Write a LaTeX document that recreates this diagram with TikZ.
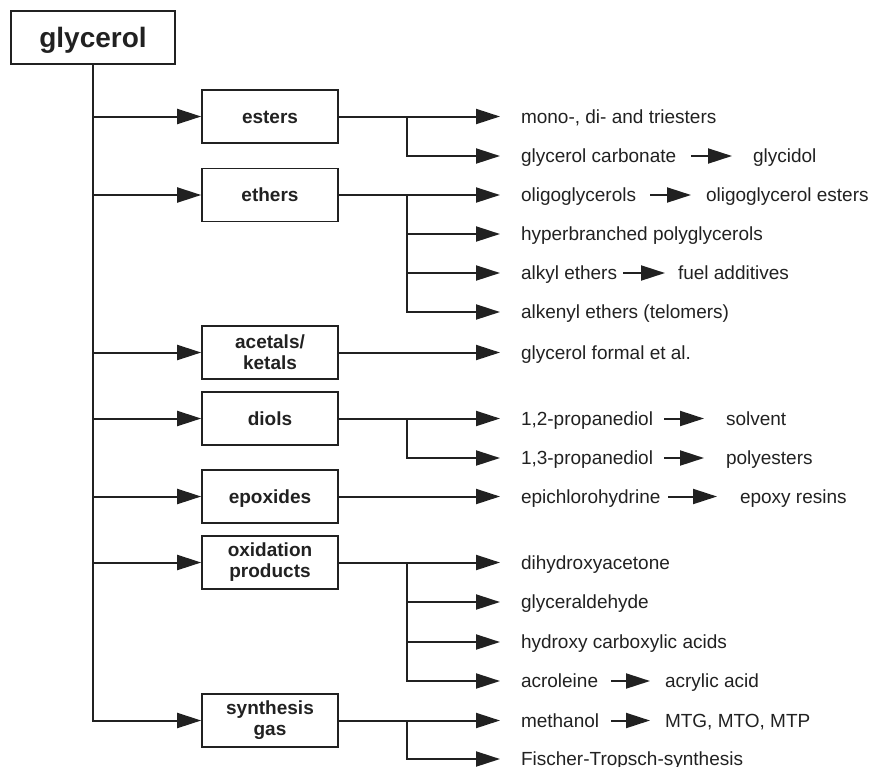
\documentclass[tikz,border=0pt]{standalone}
\usepackage{fontspec}
\setmainfont{Liberation Sans}
\usetikzlibrary{arrows.meta}
\definecolor{ink}{gray}{0.13}
\begin{document}
\begin{tikzpicture}[x=1pt,y=-1pt,
  line width=2pt,
  box/.style={draw=ink, line width=1.6pt, minimum width=136pt, minimum height=53pt, inner sep=0pt,
    font=\bfseries\fontsize{19}{21}\selectfont, text=ink, align=center},
  box1/.style={box, text height=13.6pt, text depth=0pt},
  lbl/.style={anchor=west, inner sep=0pt, font=\fontsize{19}{21}\selectfont, text=ink,
    text height=13pt, text depth=0pt},
  arr/.style={draw=ink, line width=2pt, -{Triangle[length=24pt,width=15pt]}},
]
\useasboundingbox (0,0) rectangle (872,766);

% main boxes
\node[box, minimum width=164pt, font=\bfseries\fontsize{28}{30}\selectfont, text height=20pt, text depth=0pt] (g) at (93,37.5) {glycerol};
\node[box1] (est) at (270,116.5) {esters};
\node[box1] (eth) at (270,195) {ethers};
\node[box] (ace) at (270,352.5) {acetals/\\ketals};
\node[box1] (dio) at (270,418.5) {diols};
\node[box1] (epo) at (270,496.5) {epoxides};
\node[box] (oxi) at (270,562.5) {oxidation\\products};
\node[box] (syn) at (270,720.5) {synthesis\\gas};

% labels
\node[lbl] (mono) at (520,116.5) {mono-, di- and triesters};
\node[lbl] (carb) at (520,156) {glycerol carbonate};
\node[lbl] (glyd) at (752,156) {glycidol};
\node[lbl] (olig) at (520,195) {oligoglycerols};
\node[lbl] (olige) at (705,195) {oligoglycerol esters};
\node[lbl] (hyp) at (520,234) {hyperbranched polyglycerols};
\node[lbl] (alk) at (520,273) {alkyl ethers};
\node[lbl] (fuel) at (677,273) {fuel additives};
\node[lbl] (alke) at (520,312) {alkenyl ethers (telomers)};
\node[lbl] (form) at (520,352.5) {glycerol formal et al.};
\node[lbl] (p12) at (520,418.5) {1,2-propanediol};
\node[lbl] (solv) at (725,418.5) {solvent};
\node[lbl] (p13) at (520,458) {1,3-propanediol};
\node[lbl] (poly) at (725,458) {polyesters};
\node[lbl] (epi) at (520,496.5) {epichlorohydrine};
\node[lbl] (res) at (739,496.5) {epoxy resins};
\node[lbl] (dhy) at (520,562.5) {dihydroxyacetone};
\node[lbl] (gald) at (520,602) {glyceraldehyde};
\node[lbl] (hca) at (520,642) {hydroxy carboxylic acids};
\node[lbl] (acr) at (520,681) {acroleine};
\node[lbl] (acra) at (664,681) {acrylic acid};
\node[lbl] (meth) at (520,720.5) {methanol};
\node[lbl] (mtg) at (664,720.5) {MTG, MTO, MTP};
\node[lbl] (ft) at (520,759) {Fischer-Tropsch-synthesis};

% trunk
\draw[arr] (g.south) |- (syn.west);
\foreach \b in {est,eth,ace,dio,epo,oxi}
  \draw[arr] (g.south |- \b.west) -- (\b.west);

% branch points
\coordinate (b1) at ([xshift=68pt]est.east);
\coordinate (b2) at ([xshift=68pt]eth.east);
\coordinate (b4) at ([xshift=68pt]dio.east);
\coordinate (b6) at ([xshift=68pt]oxi.east);
\coordinate (b7) at ([xshift=68pt]syn.east);

% esters
\draw[arr] (est.east) -- ([xshift=-20pt]mono.west);
\draw[arr] (b1) |- ([xshift=-20pt]carb.west);
% ethers
\draw[arr] (eth.east) -- ([xshift=-20pt]olig.west);
\foreach \t in {hyp,alk,alke}
  \draw[arr] (b2) |- ([xshift=-20pt]\t.west);
% acetals
\draw[arr] (ace.east) -- ([xshift=-20pt]form.west);
% diols
\draw[arr] (dio.east) -- ([xshift=-20pt]p12.west);
\draw[arr] (b4) |- ([xshift=-20pt]p13.west);
% epoxides
\draw[arr] (epo.east) -- ([xshift=-20pt]epi.west);
% oxidation
\draw[arr] (oxi.east) -- ([xshift=-20pt]dhy.west);
\foreach \t in {gald,hca,acr}
  \draw[arr] (b6) |- ([xshift=-20pt]\t.west);
% synthesis gas
\draw[arr] (syn.east) -- ([xshift=-20pt]meth.west);
\draw[arr] (b7) |- ([xshift=-20pt]ft.west);

% inline arrows
\draw[arr] ([xshift=13.5pt]carb.east) -- ([xshift=-20pt]glyd.west);
\draw[arr] ([xshift=13pt]olig.east) -- ([xshift=-14pt]olige.west);
\draw[arr] ([xshift=5pt]alk.east) -- ([xshift=-12pt]fuel.west);
\draw[arr] ([xshift=10pt]p12.east) -- ([xshift=-21pt]solv.west);
\draw[arr] ([xshift=10pt]p13.east) -- ([xshift=-21pt]poly.west);
\draw[arr] ([xshift=7pt]epi.east) -- ([xshift=-22pt]res.west);
\draw[arr] ([xshift=12pt]acr.east) -- ([xshift=-14pt]acra.west);
\draw[arr] ([xshift=11pt]meth.east) -- ([xshift=-14pt]mtg.west);
\end{tikzpicture}
\end{document}
